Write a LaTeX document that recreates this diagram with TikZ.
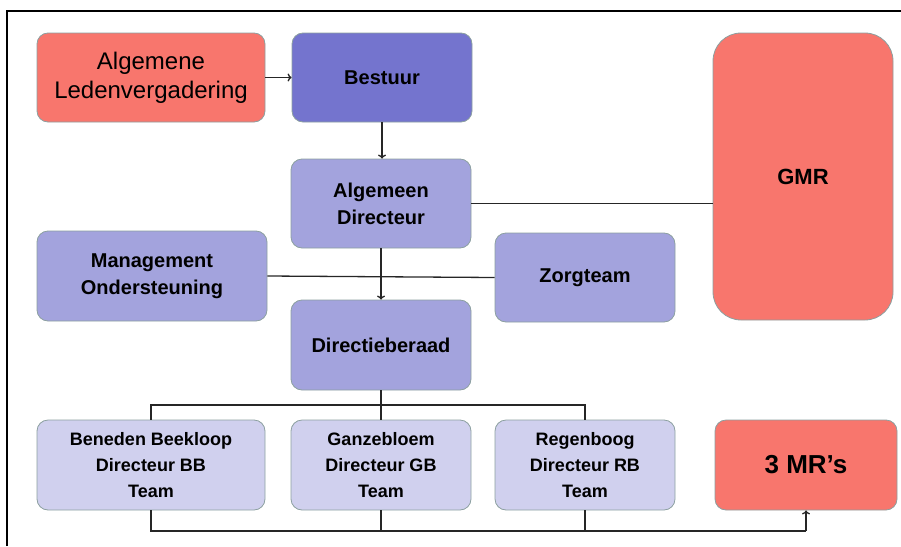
\documentclass[tikz,border=0pt]{standalone}
\usepackage{fontspec}
\setmainfont{Liberation Sans}
\usetikzlibrary{positioning}
\usetikzlibrary{arrows.meta}
\usepackage{xcolor}

\definecolor{zalm}{RGB}{248,118,109}
\definecolor{paars}{RGB}{116,116,206}
\definecolor{lila}{RGB}{163,163,221}
\definecolor{lichtlila}{RGB}{208,208,238}
\definecolor{randgrijs}{RGB}{140,160,160}

\tikzset{
    blok/.style={draw=randgrijs, line width=0.8pt, rectangle, rounded corners=11pt, align=center, font=\bfseries\fontsize{20}{27}\selectfont, inner sep=0pt},
    lijn/.style={line width=1.3pt, draw=black!85, -{To[length=4pt,width=8pt]}},
    kaal/.style={line width=1.3pt, draw=black!85}
}

\begin{document}
\begin{tikzpicture}[x=1pt,y=-1pt]
            \useasboundingbox (0,0) rectangle (901,546);
            % kader
            \draw[line width=2pt] (7,546) -- (7,11) -- (901,11);
            
            % bovenste rij
            \node[blok, fill=zalm, minimum width=228pt, minimum height=89pt, font=\fontsize{24}{29}\selectfont] (alv) at (151,77.5) {Algemene\\Ledenvergadering};
            \node[blok, fill=paars, minimum width=180pt, minimum height=89pt] (bestuur) at (382,77.5) {Bestuur};
            \node[blok, fill=zalm, minimum width=180pt, minimum height=287pt, rounded corners=28pt, font=\bfseries\fontsize{22}{27}\selectfont] (gmr) at (803,176.5) {GMR};
            
            % midden
            \node[blok, fill=lila, minimum width=180pt, minimum height=89pt] (ad) at (381,203.5) {Algemeen\\Directeur};
            \node[blok, fill=lila, minimum width=230pt, minimum height=90pt] (mo) at (152,276) {Management\\Ondersteuning};
            \node[blok, fill=lila, minimum width=180pt, minimum height=89pt] (zorg) at (585,277.5) {Zorgteam};
            \node[blok, fill=lila, minimum width=180pt, minimum height=90pt] (db) at (381,345) {Directieberaad};
            
            % scholen
            \node[blok, fill=lichtlila, minimum width=228pt, minimum height=90pt, font=\bfseries\fontsize{18}{26}\selectfont] (bb) at (151,465) {Beneden Beekloop\\Directeur BB\\Team};
            \node[blok, fill=lichtlila, minimum width=180pt, minimum height=90pt, font=\bfseries\fontsize{18}{26}\selectfont] (gb) at (381,465) {Ganzebloem\\Directeur GB\\Team};
            \node[blok, fill=lichtlila, minimum width=180pt, minimum height=90pt, font=\bfseries\fontsize{18}{26}\selectfont] (rb) at (585,465) {Regenboog\\Directeur RB\\Team};
            \node[blok, fill=zalm, minimum width=182pt, minimum height=90pt, font=\bfseries\fontsize{26}{30}\selectfont] (mr) at (806,465) {3 MR’s};
            
            \coordinate (splits) at (381,405);
            \coordinate (mrlijn) at (806,531);
            
            % verbindingen
            \draw[lijn] (alv) -- (bestuur);
            \draw[lijn] (bestuur.south) -- (bestuur.south |- ad.north);
            \draw[kaal] (ad.east) -- (ad.east -| gmr.west);
            \draw[kaal] (mo.east) -- (zorg.west);
            \draw[lijn] (ad) -- (db);
            \draw[kaal] (db) -- (splits);
            \draw[kaal] (bb.north) |- (splits) -| (rb.north);
            \draw[kaal] (splits) -- (gb.north);
            \draw[kaal] (bb.south) |- (mrlijn);
            \draw[kaal] (gb.south) -- (gb.south |- mrlijn);
            \draw[kaal] (rb.south) -- (rb.south |- mrlijn);
            \draw[lijn] (mrlijn) -- (mr.south);
        \end{tikzpicture}
\end{document}
